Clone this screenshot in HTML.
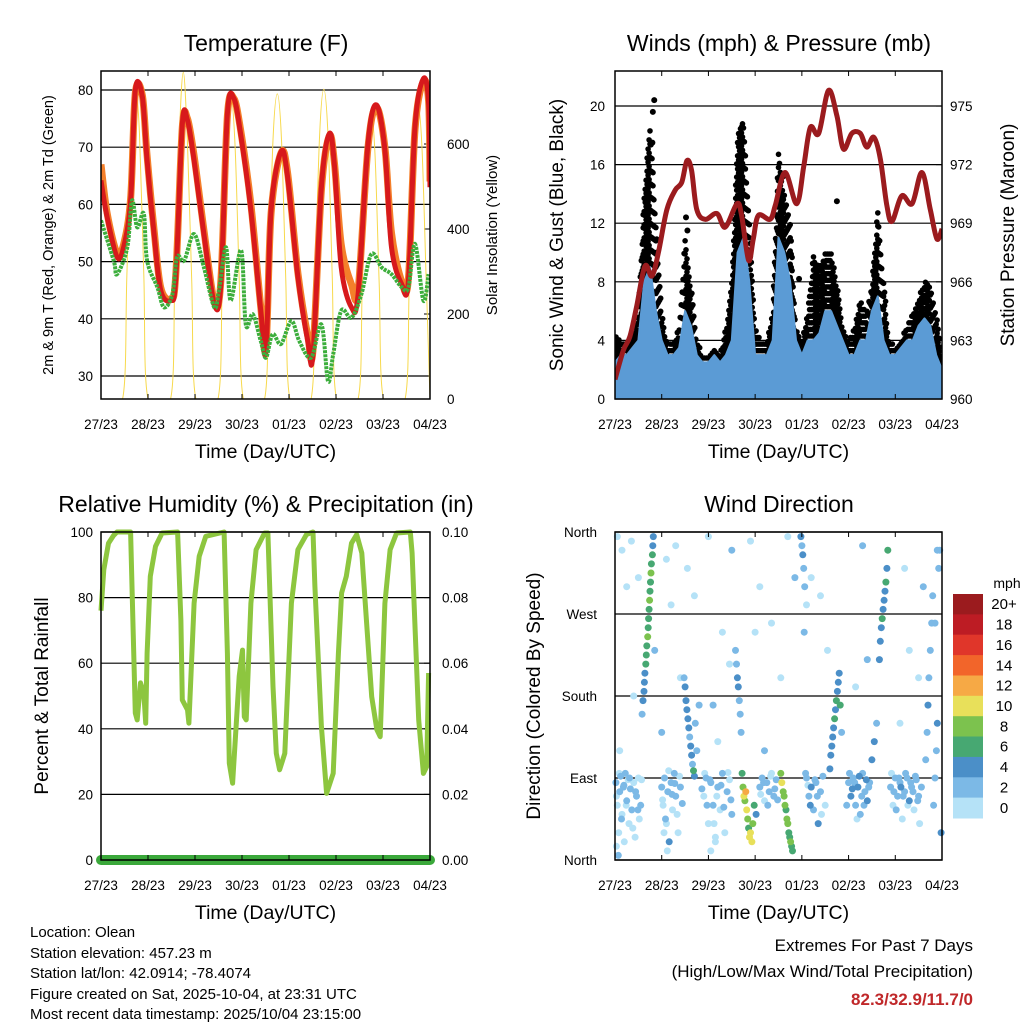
<!DOCTYPE html>
<html><head><meta charset="utf-8"><title>Station Meteogram - Olean</title>
<style>
html,body{margin:0;padding:0;background:#fff;}
svg{display:block;font-family:"Liberation Sans",Arial,sans-serif;}
</style></head>
<body>
<svg id="chart" width="1024" height="1024" viewBox="0 0 1024 1024" xmlns="http://www.w3.org/2000/svg">
<defs>
<clipPath id="clip-temp"><rect x="101" y="71" width="329" height="328"/></clipPath>
<clipPath id="clip-wind"><rect x="615" y="71" width="327" height="328"/></clipPath>
<clipPath id="clip-rh"><rect x="95" y="532" width="341" height="335"/></clipPath>
</defs>
<rect x="0" y="0" width="1024" height="1024" fill="#fff"/>
<g id="g-temp"></g>
<g id="g-wind"></g>
<g id="g-rh"></g>
<g id="g-dir"></g>
<g font-size="15" fill="#000">
<text x="30" y="937">Location: Olean</text>
<text x="30" y="958">Station elevation: 457.23 m</text>
<text x="30" y="978">Station lat/lon: 42.0914; -78.4074</text>
<text x="30" y="999">Figure created on Sat, 2025-10-04, at 23:31 UTC</text>
<text x="30" y="1019">Most recent data timestamp: 2025/10/04 23:15:00</text>
</g>
<g font-size="17" text-anchor="end">
<text x="973" y="951">Extremes For Past 7 Days</text>
<text x="973" y="977">(High/Low/Max Wind/Total Precipitation)</text>
<text x="973" y="1005" font-weight="bold" fill="#c0282a">82.3/32.9/11.7/0</text>
</g>
</svg>
<script>
// ---------- data (time in days since 27/23 UTC) ----------
const dayLabels = ["27/23","28/23","29/23","30/23","01/23","02/23","03/23","04/23"];
const tempTime = [0,0.13,0.34,0.48,0.63,0.73,0.88,0.98,1.13,1.27,1.48,1.59,1.73,1.84,1.98,2.19,2.41,2.55,2.69,2.83,2.98,3.19,3.4,3.51,3.62,3.83,3.97,4.19,4.4,4.51,4.69,4.86,4.97,5.11,5.33,5.47,5.68,5.86,6.04,6.18,6.4,6.54,6.68,6.86,6.97,7.0];
const temp2m = [64.2,57.8,50.8,52.5,60.7,80,78.8,67.7,54.8,45,43.2,47,74,74.7,67.7,54.8,42.6,46,75.9,78.5,71.8,59,41.4,34.4,59,69.2,64.8,47.3,36.1,33.8,63,72.4,66.5,49,42,44.3,70.6,77.4,69.5,52.5,46,46.6,73.6,82,77.7,63];
const temp9m = [67,58.5,51.5,53,61,79.5,79,68.5,55.5,45.5,43.5,47.5,73.5,75,68.5,55.5,43,46.5,75.5,78.5,72.5,60,42,35,58.5,69,65.5,48,37,34.5,62.5,72,67,53,46,45,70,77,70,55,46.5,47,73,81.5,78,64];
const dewTime = [0,0.27,0.34,0.56,0.66,0.77,0.91,0.98,1.2,1.34,1.52,1.62,1.77,1.98,2.19,2.41,2.51,2.66,2.76,2.98,3.08,3.23,3.4,3.51,3.65,3.83,4.05,4.22,4.47,4.69,4.83,4.94,5.11,5.33,5.54,5.75,5.97,6.18,6.4,6.54,6.68,6.86,6.97];
const dewPt = [57.2,50.2,47.8,52.5,60.7,56,58.4,50.2,45.5,42,44.3,50.8,50.2,54.8,49,42,45,52.5,43.2,52,39,40.8,36.1,33.2,37.3,35.6,39.6,36.1,33.2,39,29.1,33.8,41.4,40.2,44.3,51.3,49,47.8,45.5,45.5,53.1,43.2,47.8];
const solarTime = [0,0.46,0.55,0.64,0.73,0.82,0.91,1.0, 1.48,1.57,1.66,1.75,1.84,1.93,2.02, 2.49,2.58,2.67,2.76,2.85,2.94,3.03, 3.48,3.57,3.66,3.75,3.84,3.93,4.02, 4.47,4.56,4.65,4.74,4.83,4.92,5.01, 5.47,5.56,5.65,5.74,5.83,5.92,6.01, 6.47,6.56,6.65,6.74,6.83,6.92,7.0];
const solarVal = [0,0,293,623,733,623,293,0, 0,280,600,769,600,280,0, 0,284,604,710,604,284,0, 0,287,610,718,610,287,0, 0,292,620,729,620,292,0, 0,271,576,678,576,271,0, 0,278,590,694,590,278,0];
const presTime = [0,0.18,0.32,0.46,0.64,0.79,0.93,1.11,1.29,1.43,1.54,1.64,1.75,1.93,2.18,2.36,2.61,2.71,2.86,2.96,3.07,3.32,3.43,3.64,3.89,4.04,4.18,4.36,4.57,4.75,4.89,5.07,5.25,5.39,5.54,5.68,5.82,5.93,6.14,6.36,6.57,6.75,6.89,7.0];
const presVal = [961.0,962.5,963.2,964.7,966.8,966.3,967.5,969.7,970.7,971.1,972.2,971.7,969.7,969.2,969.5,968.8,970.0,969.4,967.1,968.2,969.4,969.2,969.9,971.6,970.0,971.9,973.9,973.6,975.8,974.5,972.8,973.6,973.6,972.9,973.4,972.3,969.9,969.1,970.4,970.0,971.6,969.7,968.2,968.7];
// wind sampled every 3 hours (0.125 day)
const windMax = [2.5,3,3,3.5,4,8,9,6,4,3,3,3.5,6,5,3,2.5,2.5,3,2.5,3,4,10,11,8,3,3,3,4,11,10,8,4,3,4,4,4.5,6,6,5,4,3,3,4,4,6,7,4,3,3,3.5,4,4,5,5.5,5,3,2];
const gustMax = [4.5,4,4,4.5,6,14,19,12,6,3.5,4,5,11,8,4,3,3,3.5,3,5,8,18,19,12,5,4,4,6,17,14,12,5,4,6,10,9,10,10,8,5,4,5,7,6,8,13,8,4,3.5,4,5,6,7,8,8,6,3];
const gustOutT = [0.81,0.84,0.8,1.52,1.55,2.63,2.72,3.6,3.94,4.75,5.63,6.62,6.68];
const gustOutV = [19.6,20.4,17.5,12.4,11.5,16,18.6,15.2,8.2,13.5,10.6,6.7,7.5];
const rhTime = [0,0.06,0.16,0.27,0.34,0.63,0.66,0.73,0.77,0.84,0.91,0.95,0.98,1.05,1.16,1.3,1.63,1.7,1.73,1.84,1.87,1.98,2.09,2.23,2.62,2.69,2.73,2.8,2.94,3.01,3.05,3.09,3.19,3.3,3.48,3.55,3.66,3.73,3.8,3.91,4.05,4.19,4.37,4.51,4.55,4.69,4.8,4.94,5.05,5.12,5.22,5.33,5.44,5.55,5.76,5.87,5.94,6.04,6.15,6.29,6.58,6.62,6.76,6.86,6.93,6.97];
const rhVal = [76,88.5,96.6,99,100,100,83.4,44.8,42.7,54,51,41.7,63,86.5,95.6,99.7,100,73,48.8,45.8,41.7,78.3,92.6,98.7,100,63,29.5,23.4,56,64,43.7,42.7,78.3,94.6,99.7,99.7,52.9,32.5,27.5,32.5,78.3,94.6,99.2,100,83.4,40.7,20.3,26.4,63,81.4,86.5,96.6,99.2,93.6,49.8,39.7,37.6,78.3,94.6,99.7,100,93.6,42.7,26.4,28.5,57];
const precipTime = [0,7];
const precipVal = [0,0];
const dirTime = [0.02,0.05,0.08,0.1,0.12,0.15,0.18,0.2,0.22,0.25,0.28,0.3,0.33,0.36,0.4,0.43,0.46,0.5,0.52,0.55,
0.58,0.6,0.62,0.63,0.64,0.66,0.67,0.68,0.7,0.71,0.72,0.73,0.74,0.75,0.76,0.77,0.78,0.8,0.81,0.82,
0.05,0.15,0.25,0.35,0.5,0.85,1.1,1.3,1.55,1.7,2.0,2.3,2.5,3.1,3.35,3.7,4.2,4.4,5.3,6.2,6.5,6.9,1.2,2.9,
1.0,1.03,1.06,1.1,1.13,1.16,1.2,1.23,1.27,1.3,1.35,1.4,
1.48,1.5,1.52,1.54,1.56,1.58,1.6,1.62,1.64,1.66,1.68,1.7,1.72,1.75,1.8,
1.9,1.95,2.0,2.05,2.1,2.15,2.2,2.25,2.3,2.35,2.4,2.45,2.5,
2.58,2.6,2.62,2.64,2.66,2.68,2.7,
2.72,2.74,2.76,2.78,2.8,2.82,2.84,2.86,2.88,2.9,2.93,2.95,2.98,3.02,
3.1,3.15,3.2,3.25,3.3,3.35,3.4,3.45,
3.55,3.57,3.6,3.62,3.64,3.66,3.68,3.7,3.72,3.74,3.76,3.78,3.8,
3.98,4.0,4.02,4.04,4.06,4.1,4.15,4.2,4.25,4.3,4.35,4.4,4.45,4.5,
4.6,4.62,4.64,4.66,4.68,4.7,4.72,4.74,4.76,4.78,4.8,4.82,4.85,
5.0,5.05,5.1,5.15,5.2,5.25,5.3,5.35,5.4,5.45,5.5,5.55,5.6,
5.66,5.68,5.7,5.72,5.74,5.76,5.78,5.8,5.82,5.84,
5.9,5.95,6.0,6.05,6.1,6.15,6.2,6.25,6.3,6.35,6.4,6.45,6.5,
6.65,6.68,6.7,6.72,6.75,6.78,6.8,6.82,6.85,6.88,6.9,6.93,6.95,6.98,
0.03,0.09,0.14,0.19,0.24,0.31,0.38,0.44,0.49,0.57,
1.02,1.08,1.15,1.22,1.28,1.33,1.38,1.44,1.86,1.92,
1.97,2.03,2.12,2.18,2.27,2.33,2.42,2.48,3.12,3.18,
3.27,3.33,3.42,3.48,4.08,4.13,4.18,4.28,4.33,4.42,
4.96,5.02,5.08,5.13,5.18,5.23,5.28,5.33,5.38,5.43,
5.92,5.97,6.02,6.08,6.12,6.17,6.22,6.27,6.33,6.38,
6.43,6.48,6.52,6.56,1.05,1.12,0.03,0.07,2.05,2.15,
0.1,0.4,1.0,1.4,2.1,2.2,2.45,3.0,3.2,3.55,
3.85,4.05,4.1,4.55,5.15,5.4,6.1,6.3,6.6,6.85];
const dirDeg = [85,60,30,75,92,50,80,20,95,65,88,40,78,55,85,25,70,90,45,60,
160,175,185,195,205,215,225,235,245,255,265,275,285,295,305,315,325,335,345,355,
355,340,300,350,310,230,330,345,320,290,355,250,340,300,260,355,310,290,345,320,200,340,280,350,
80,60,90,40,75,20,85,55,95,70,30,80,
200,190,175,165,155,145,135,125,115,105,98,92,150,120,170,
70,90,40,85,60,20,80,55,95,30,75,88,50,
230,215,200,190,175,160,140,
95,80,70,65,75,55,45,35,25,30,20,40,60,50,
80,90,65,85,75,95,70,88,
95,85,75,70,60,55,45,40,30,25,20,15,10,
355,345,335,320,300,90,70,80,55,85,40,75,92,60,
100,115,125,135,145,155,165,175,185,195,205,170,140,
85,70,90,60,80,50,95,75,65,85,110,130,150,
220,240,255,265,275,285,295,305,320,340,
80,60,90,70,85,45,75,90,65,80,55,88,70,
110,140,170,200,230,260,290,60,90,120,150,320,340,30,
70,95,45,82,60,90,35,75,55,88,
66,45,98,72,84,50,92,62,78,95,
60,88,40,70,82,58,96,66,72,85,
60,92,78,66,95,82,60,88,70,50,
60,95,78,85,45,92,70,60,88,80,
95,75,55,90,80,70,95,60,85,75,
92,65,40,80,30,10,15,5,10,25,
120,180,140,200,170,130,215,250,120,200,
310,250,280,230,190,220,150,230,300,260];
const dirSpd = [2,1,1,2,2,0,3,1,2,2,1,0,2,3,1,1,2,1,0,2,
3,4,4,5,4,6,7,6,8,7,7,6,8,7,6,8,7,6,4,5,
0,1,0,0,1,2,1,0,1,0,0,1,2,0,1,0,1,0,2,1,0,2,0,1,
2,1,2,1,2,4,2,1,3,2,1,2,
3,4,4,5,4,4,3,4,4,3,6,4,2,3,2,
1,2,1,2,3,1,2,1,2,0,2,1,2,
2,3,4,4,3,2,2,
7,9,10,8,12,10,9,7,10,11,10,8,6,4,
2,2,1,3,2,1,2,2,
8,10,9,8,9,7,8,9,6,7,8,7,6,
4,3,4,2,2,3,2,4,3,2,4,2,3,1,
4,4,5,4,4,6,5,6,4,4,4,6,3,
3,4,3,2,4,3,2,3,4,2,4,4,3,
4,5,4,6,4,5,4,6,4,7,
2,1,2,2,3,1,2,2,4,2,1,2,2,
3,2,4,3,2,3,2,2,3,2,4,2,3,4,
1,0,2,3,1,2,0,2,3,1,
0,2,1,3,2,0,1,2,2,1,
3,2,0,1,2,3,0,2,1,3,
2,0,2,3,2,1,4,2,3,1,
2,3,4,3,1,4,2,3,4,3,
1,2,3,2,4,3,2,1,3,2,
3,2,1,2,1,0,1,2,0,1,
1,0,2,1,2,1,0,1,2,1,
2,3,1,0,1,2,0,1,2,3];
const speedBinLabels = ["0","2","4","6","8","10","12","14","16","18","20+"];
const speedBinColors = ["#b5e2f7","#7cb9e6","#4b8fc8","#47a872","#7cc24e","#e8e05a","#f6a945","#f2652a","#e0362a","#bd1c24","#9b1b1e"];

// ---------- helpers ----------
const NS = "http://www.w3.org/2000/svg";
function mk(parent, tag, attrs, text){
  const e = document.createElementNS(NS, tag);
  for (const k in attrs) e.setAttribute(k, attrs[k]);
  if (text !== undefined) e.textContent = text;
  parent.appendChild(e);
  return e;
}
function xScale(x0, x1){ return t => x0 + t / 7 * (x1 - x0); }
function smoothPath(ts, vs, sx, sy){
  const p = ts.map((t,i) => [sx(t), sy(vs[i])]);
  let d = "M" + p[0][0].toFixed(1) + "," + p[0][1].toFixed(1);
  for (let i = 0; i < p.length - 1; i++){
    const p0 = p[i-1] || p[i], p1 = p[i], p2 = p[i+1], p3 = p[i+2] || p[i+1];
    const c1x = p1[0] + (p2[0]-p0[0])/6, c1y = p1[1] + (p2[1]-p0[1])/6;
    const c2x = p2[0] - (p3[0]-p1[0])/6, c2y = p2[1] - (p3[1]-p1[1])/6;
    d += "C" + c1x.toFixed(1) + "," + c1y.toFixed(1) + " " + c2x.toFixed(1) + "," + c2y.toFixed(1) + " " + p2[0].toFixed(1) + "," + p2[1].toFixed(1);
  }
  return d;
}
function pathFrom(ts, vs, sx, sy){
  let d = "";
  for (let i = 0; i < ts.length; i++) d += (i ? "L" : "M") + sx(ts[i]).toFixed(1) + "," + sy(vs[i]).toFixed(1);
  return d;
}
function frame(g, x0, x1, y0, y1, title, titleX){
  const f = mk(g, "rect", {x:x0, y:y0, width:x1-x0, height:y1-y0, fill:"none", stroke:"#000", "stroke-width":1.5});
  
  
  const sx = xScale(x0, x1);
  for (let i = 0; i < dayLabels.length; i++){
    const x = sx(i);
    const tk = mk(g, "line", {x1:x, x2:x, y1:y1, y2:y1-5, stroke:"#000", "stroke-width":1});
    
    
    mk(g, "line", {x1:x, x2:x, y1:y0, y2:y0+5, stroke:"#000", "stroke-width":1});
    const lb = mk(g, "text", {x:x, y:y1+30, "font-size":13.5, "text-anchor":"middle"}, dayLabels[i]);
    
    
  }
  const xt = mk(g, "text", {x:(x0+x1)/2, y:y1+59, "font-size":19.5, "text-anchor":"middle"}, "Time (Day/UTC)");
  
  
  const tt = mk(g, "text", {x:titleX, y:y0-20, "font-size":23, "text-anchor":"middle"}, title);
  
  
  return sx;
}
function hgrid(g, x0, x1, y, label, lx, anchor){
  const l = mk(g, "line", {x1:x0, x2:x1, y1:y, y2:y, stroke:"#000", "stroke-width":1.2});
  
  
  const t = mk(g, "text", {x:lx, y:y+5, "font-size":13.5, "text-anchor":anchor}, label);
  
  
}
function rightTick(g, x1, y, label, lx, size){
  mk(g, "line", {x1:x1, x2:x1-6, y1:y, y2:y, stroke:"#000", "stroke-width":1});
  const t = mk(g, "text", {x:lx, y:y+5, "font-size":size||13.5, "text-anchor":"start"}, label);
  
  
}
function vTitle(g, x, y, txt, size, name){
  const t = mk(g, "text", {x:x, y:y, "font-size":size, "text-anchor":"middle", transform:"rotate(-90 "+x+" "+y+")"}, txt);
  
  
}

// ---------- Temperature panel ----------
(function(){
  const g = document.getElementById("g-temp");
  const x0 = 101, x1 = 430, y0 = 71, y1 = 399;
  const sx = xScale(x0, x1);
  const ty = v => 376 - (v - 30) * 5.72;
  const sy = v => 399 - v * 0.425;
  [30,40,50,60,70,80].forEach(v => hgrid(g, x0, x1, ty(v), String(v), 93, "end"));
  [0,200,400,600].forEach(v => rightTick(g, x1, sy(v), String(v), 447));
  const cg = mk(g, "g", {"clip-path":"url(#clip-temp)"});
  
  
  const ys = mk(cg, "path", {d:smoothPath(solarTime, solarVal, sx, sy), fill:"none", stroke:"#f7d94c", "stroke-width":1});
  
  
  const o = mk(cg, "path", {d:smoothPath(tempTime, temp9m, sx, ty), fill:"none", stroke:"#f47f2a", "stroke-width":7, "stroke-linejoin":"round"});
  
  
  const r = mk(cg, "path", {d:smoothPath(tempTime, temp2m, sx, ty), fill:"none", stroke:"#d7191c", "stroke-width":5, "stroke-linejoin":"round"});
  
  
  const d = mk(cg, "path", {d:smoothPath(dewTime, dewPt, sx, ty), fill:"none", stroke:"#3cae3c", "stroke-width":4, "stroke-linejoin":"round", "stroke-dasharray":"3 1"});
  
  
  frame(g, x0, x1, y0, y1, "Temperature (F)", 266);
  vTitle(g, 53, 235, "2m & 9m T (Red, Orange) & 2m Td (Green)", 14.5, "y-axis-title-left");
  vTitle(g, 497, 235, "Solar Insolation (Yellow)", 15, "y-axis-title-right");
})();

// ---------- Wind & pressure panel ----------
(function(){
  const g = document.getElementById("g-wind");
  const x0 = 615, x1 = 942, y0 = 71, y1 = 399;
  const sx = xScale(x0, x1);
  const wy = v => 399 - v * 14.65;
  const py = p => 399 - (p - 960) * 19.53;
  [0,4,8,12,16,20].forEach(v => hgrid(g, x0, x1, wy(v), String(v), 605, "end"));
  [960,963,966,969,972,975].forEach(v => rightTick(g, x1, py(v), String(v), 950));
  const cg = mk(g, "g", {"clip-path":"url(#clip-wind)"});
  
  
  const n = windMax.length;
  const wt = i => i * 7 / (n - 1);
  const gg = mk(cg, "g", {fill:"#000"});
  
  
  const SUB = 6;
  for (let i = 0; i < n - 1; i++){
    for (let s = 0; s < SUB; s++){
      const f = s / SUB;
      const t = wt(i) + f * (wt(i+1) - wt(i));
      const gv = gustMax[i] + f * (gustMax[i+1] - gustMax[i]);
      const wv = windMax[i] + f * (windMax[i+1] - windMax[i]);
      const off = (s % 2) * 0.45;
      for (let v = Math.max(0.3, wv - 1.5) + off; v <= gv; v += 0.9){
        const c = mk(gg, "circle", {cx:sx(t).toFixed(1), cy:wy(v).toFixed(1), r:2.8});
        
        
      }
    }
  }
  for (let i = 0; i < gustOutT.length; i++){
    const c = mk(gg, "circle", {cx:sx(gustOutT[i]), cy:wy(gustOutV[i]), r:3, fill:"#000"});
    
    
  }
  let dw = "M" + sx(0) + "," + wy(0);
  for (let i = 0; i < n; i++) dw += "L" + sx(wt(i)).toFixed(1) + "," + wy(windMax[i]).toFixed(1);
  dw += "L" + sx(7) + "," + wy(0) + "Z";
  const wp = mk(cg, "path", {d:dw, fill:"#5b9bd5", stroke:"#5b9bd5", "stroke-width":2, "stroke-linejoin":"round"});
  
  
  const pp = mk(cg, "path", {d:smoothPath(presTime, presVal, sx, py), fill:"none", stroke:"#9b1b1e", "stroke-width":5, "stroke-linejoin":"round"});
  
  
  frame(g, x0, x1, y0, y1, "Winds (mph) & Pressure (mb)", 779);
  vTitle(g, 563, 235, "Sonic Wind & Gust (Blue, Black)", 19, "y-axis-title-left");
  vTitle(g, 1014, 235, "Station Pressure (Maroon)", 19, "y-axis-title-right");
})();

// ---------- RH & precip panel ----------
(function(){
  const g = document.getElementById("g-rh");
  const x0 = 101, x1 = 430, y0 = 532, y1 = 860;
  const sx = xScale(x0, x1);
  const ry = v => 860 - v * 3.28;
  const qy = v => 860 - v * 3280;
  [0,20,40,60,80,100].forEach(v => hgrid(g, x0, x1, ry(v), String(v), 93, "end"));
  [0,0.02,0.04,0.06,0.08,0.10].forEach(v => rightTick(g, x1, qy(v), v.toFixed(2), 442));
  const rl = mk(g, "path", {d:pathFrom(rhTime, rhVal, sx, ry), fill:"none", stroke:"#8dc63f", "stroke-width":5, "stroke-linejoin":"round"});
  
  
  const pl = mk(g, "path", {d:pathFrom(precipTime, precipVal, sx, qy), fill:"none", stroke:"#3aa83a", "stroke-width":10, "stroke-linecap":"round"});
  
  
  frame(g, x0, x1, y0, y1, "Relative Humidity (%) & Precipitation (in)", 266);
  vTitle(g, 48, 696, "Percent & Total Rainfall", 19, "y-axis-title-left");
})();

// ---------- Wind direction panel ----------
(function(){
  const g = document.getElementById("g-dir");
  const x0 = 615, x1 = 942, y0 = 532, y1 = 860;
  const sx = xScale(x0, x1);
  const dy = d => 860 - d * 328 / 360;
  [[0,"North"],[90,"East"],[180,"South"],[270,"West"],[360,"North"]].forEach(p => hgrid(g, x0, x1, dy(p[0]), p[1], 597, "end"));
  const order = dirSpd.map((s,i)=>i).sort((a,b)=>dirSpd[a]-dirSpd[b]);
  for (const i of order){
    const bin = Math.min(10, Math.floor(dirSpd[i] / 2));
    const c = mk(g, "circle", {cx:sx(dirTime[i]).toFixed(1), cy:dy(dirDeg[i]).toFixed(1), r:3.5, fill:speedBinColors[bin]});
    
    
  }
  frame(g, x0, x1, y0, y1, "Wind Direction", 779);
  vTitle(g, 540, 696, "Direction (Colored By Speed)", 19, "y-axis-title-left");
  const cb = mk(g, "g", {});
  
  
  const top = 594, h = 224 / 11;
  for (let k = 0; k < 11; k++){
    const idx = 10 - k;
    const r = mk(cb, "rect", {x:953, y:(top + k*h).toFixed(1), width:30, height:(h+0.5).toFixed(1), fill:speedBinColors[idx]});
    
    
    const t = mk(cb, "text", {x:1004, y:(top + k*h + h/2 + 5).toFixed(1), "font-size":15, "text-anchor":"middle"}, speedBinLabels[idx]);
    
    
  }
  const u = mk(cb, "text", {x:1007, y:588, "font-size":14, "text-anchor":"middle"}, "mph");
  
  
})();
</script>
</body></html>
